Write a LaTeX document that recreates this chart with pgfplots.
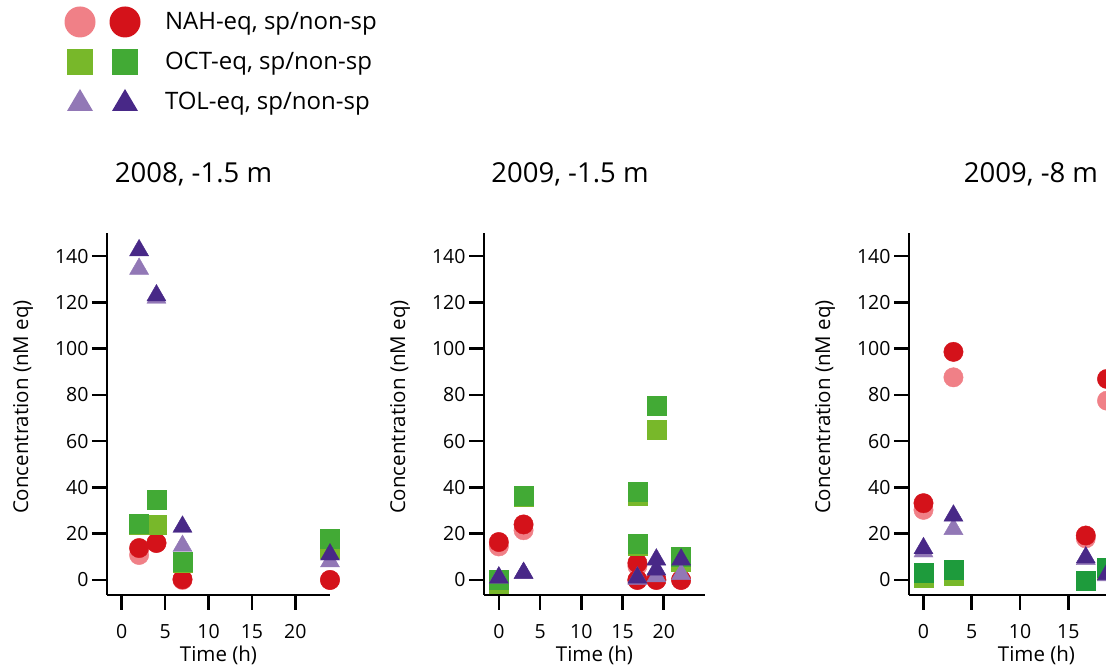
\documentclass[border=0pt]{standalone}
\usepackage{pgfplots}
\pgfplotsset{compat=1.18}
\usepackage{fontspec}
\setmainfont{Open Sans}
\definecolor{nahL}{RGB}{240,128,135}
\definecolor{nahD}{RGB}{212,18,26}
\definecolor{octL}{RGB}{120,184,42}
\definecolor{octD}{RGB}{66,170,53}
\definecolor{octDb}{RGB}{30,155,60}
\definecolor{tolL}{RGB}{146,120,182}
\definecolor{tolD}{RGB}{72,40,135}
\pgfplotsset{
  panel/.style={
    scale only axis, height=362pt, ymin=-6.5, ymax=150,
    axis x line*=bottom, axis y line*=left,
    axis line style={-, line width=2.6pt},
    tick style={line width=2.6pt, black},
    major tick length=15pt, tick align=outside,
    ytick={0,20,...,140}, xtick={0,5,...,20},
    tick label style={font=\fontsize{19.5}{21}\selectfont},
    xticklabel style={yshift=-11pt},
    /pgf/number format/assume math mode=true,
    clip=false,
    xlabel={Time (h)}, ylabel={Concentration (nM eq)},
    label style={font=\fontsize{20.5}{23}\selectfont},
    xlabel style={at={(axis description cs:0.5,-0.1657)}, anchor=center},
  },
  nL/.style={only marks, mark=*, mark size=9.7pt, color=nahL, mark options={draw=none}},
  nD/.style={only marks, mark=*, mark size=9.7pt, color=nahD, mark options={draw=none}},
  oL/.style={only marks, mark=square*, mark size=9.5pt, color=octL, mark options={draw=none}},
  oD/.style={only marks, mark=square*, mark size=9.5pt, color=octD, mark options={draw=none}},
  tL/.style={only marks, mark=triangle*, mark size=11pt, color=tolL, mark options={draw=none}},
  tD/.style={only marks, mark=triangle*, mark size=11pt, color=tolD, mark options={draw=none}},
}
\begin{document}
\begin{tikzpicture}
% ---------- panel 1 ----------
\begin{axis}[panel, at={(107pt,76pt)}, anchor=south west, width=223pt,
  xmin=-1.7, xmax=24,
  ylabel style={at={(axis description cs:-0.3767,0.519)}, anchor=center},
  legend style={at={(axis description cs:-0.1928,1.6271)}, anchor=north west,
    draw=none, fill=none, inner sep=0pt, outer sep=0pt,
    column sep=22pt, row sep=8pt, cells={anchor=west},
    font=\fontsize{24}{26}\selectfont},
  legend cell align=left]
\addlegendimage{legend image code/.code={
  \path[draw=none, fill=none] (-16pt,-16pt) rectangle (61pt,16pt);
  \fill[nahL, draw=none] (0pt,0pt) circle (15.5pt);
  \fill[nahD, draw=none] (45pt,0pt) circle (15.5pt);}}
\addlegendentry{NAH-eq, sp/non-sp}
\addlegendimage{legend image code/.code={
  \path[draw=none, fill=none] (-16pt,-16pt) rectangle (61pt,16pt);
  \fill[octL, draw=none] (-13pt,-13pt) rectangle (13pt,13pt);
  \fill[octD, draw=none] (32pt,-13pt) rectangle (58pt,13pt);}}
\addlegendentry{OCT-eq, sp/non-sp}
\addlegendimage{legend image code/.code={
  \path[draw=none, fill=none] (-16pt,-16pt) rectangle (61pt,16pt);
  \fill[tolL, draw=none] (-13pt,-9pt) -- (13pt,-9pt) -- (0pt,13pt) -- cycle;
  \fill[tolD, draw=none] (32pt,-9pt) -- (58pt,-9pt) -- (45pt,13pt) -- cycle;}}
\addlegendentry{TOL-eq, sp/non-sp}
\addplot[nL, forget plot] coordinates {(2,10.8) (4,16) (7,0) (24,0)};
\addplot[nD, forget plot] coordinates {(2,13.8) (4,16) (7,0.3) (24,0)};
\addplot[oL, forget plot] coordinates {(2,24) (4,23.8) (7,7.5) (24,13.3)};
\addplot[oD, forget plot] coordinates {(2,24.4) (4,34.8) (7,7.8) (24,17.8)};
\addplot[tL, forget plot] coordinates {(2,134.5) (4,122) (7,14.7) (24,8)};
\addplot[tD, forget plot] coordinates {(2,142.5) (4,123) (7,23) (24,11)};
\end{axis}
% ---------- panel 2 ----------
\begin{axis}[panel, at={(484pt,76pt)}, anchor=south west, width=221pt,
  xmin=-1.8, xmax=25,
  ylabel style={at={(axis description cs:-0.380,0.519)}, anchor=center}]
\addplot[nL] coordinates {(0,14.5) (3,21.5) (16.8,6) (16.8,0) (19.1,0) (22.1,0)};
\addplot[nD] coordinates {(0,16.4) (3,24) (16.8,7.3) (16.8,0) (19.1,0) (22.1,0)};
\addplot[oL] coordinates {(0,-1.5) (3,36) (16.8,36.3) (16.8,15) (19.1,65.1) (22.1,8)};
\addplot[oD] coordinates {(0,0) (3,36.6) (16.8,38) (16.8,15.7) (19.1,75.3) (22.1,9.9)};
\addplot[tL] coordinates {(0,1) (3,3) (16.8,0.5) (16.8,1) (19.1,1.5) (22.1,2.5)};
\addplot[tD] coordinates {(0,1) (3,3) (16.8,1) (19.1,8.8) (19.1,4.5) (22.1,8.8)};
\end{axis}
% ---------- panel 3 ----------
\begin{axis}[panel, at={(909pt,76pt)}, anchor=south west, width=255pt,
  xmin=-1.5, xmax=24.9,
  ylabel style={at={(axis description cs:-0.329,0.519)}, anchor=center}]
\addplot[nL] coordinates {(0,30.3) (3.1,87.6) (16.8,18) (19,77.5)};
\addplot[nD] coordinates {(0,33.2) (3.1,98.6) (16.8,19.2) (19,86.9)};
\addplot[oL] coordinates {(0,1) (3.1,2) (16.8,-0.5) (19,4)};
\addplot[oD, color=octDb] coordinates {(0,3.2) (3.1,4.6) (16.8,-0.3) (19,5.5)};
\addplot[tL] coordinates {(0,12.3) (3.1,22) (16.8,9) (19,2)};
\addplot[tD] coordinates {(0,13.7) (3.1,27.8) (16.8,9.7) (19,2.5)};
\end{axis}
% ---------- titles ----------
\node[anchor=base, font=\fontsize{27.5}{30}\selectfont] at (193.5pt,488pt) {2008, -1.5 m};
\node[anchor=base, font=\fontsize{27.5}{30}\selectfont] at (570pt,488pt) {2009, -1.5 m};
\node[anchor=base, font=\fontsize{27.5}{30}\selectfont] at (1031pt,488pt) {2009, -8 m};
\pgfresetboundingbox
\useasboundingbox (0pt,0pt) rectangle (1106pt,671pt);
\end{tikzpicture}
\end{document}
